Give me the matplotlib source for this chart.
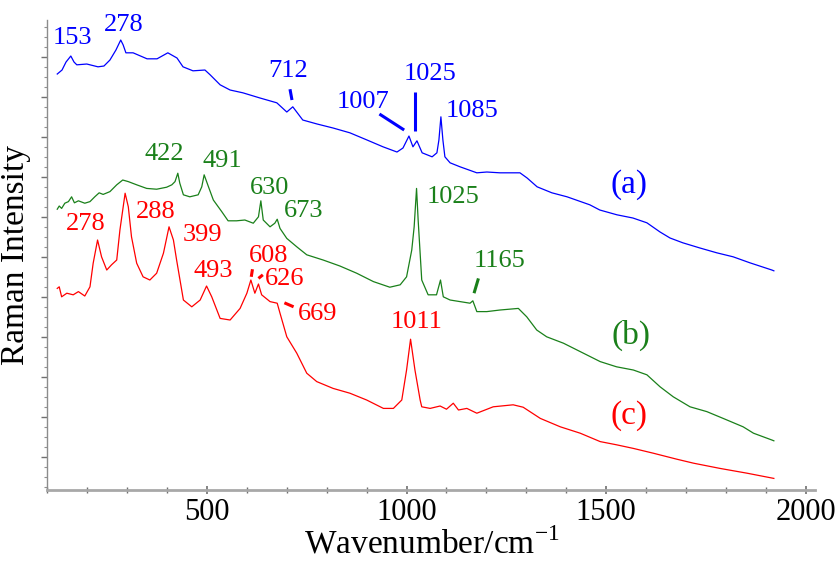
import matplotlib
matplotlib.use("Agg")
import matplotlib.pyplot as plt
from matplotlib.ticker import FixedLocator, MultipleLocator
import numpy as np

plt.rcParams['font.family'] = ['Liberation Serif', 'DejaVu Serif']
plt.rcParams['mathtext.fontset'] = 'custom'
plt.rcParams['mathtext.rm'] = 'Liberation Serif'

# ---- spectrum (a), blue ----
wa = [125, 137, 147, 159, 167, 174, 199, 227, 242, 257, 272, 284, 290, 297, 315, 350, 375, 402, 425, 440,
      465, 495, 508, 533, 558, 590, 633, 675, 700, 715, 740, 776, 816, 858, 901, 941, 976, 991, 1006, 1016,
      1026, 1039, 1064, 1076, 1081, 1086, 1091, 1096, 1109, 1134, 1176, 1201, 1234, 1284, 1302, 1327, 1364,
      1402, 1459, 1484, 1527, 1567, 1602, 1635, 1660, 1692, 1735, 1777, 1818, 1860, 1915, 1920]
ia = [10.40, 10.50, 10.70, 10.85, 10.70, 10.63, 10.65, 10.58, 10.60, 10.75, 11.00, 11.25, 11.13, 10.93,
      10.93, 10.78, 10.78, 10.93, 10.80, 10.58, 10.48, 10.50, 10.38, 10.13, 10.00, 9.93, 9.80, 9.68, 9.45,
      9.58, 9.25, 9.15, 9.05, 8.93, 8.75, 8.58, 8.45, 8.55, 8.85, 8.58, 8.73, 8.43, 8.33, 8.43, 8.75, 9.33,
      8.75, 8.33, 8.18, 8.08, 7.93, 7.95, 7.93, 7.93, 7.80, 7.58, 7.43, 7.33, 7.13, 7.00, 6.88, 6.80, 6.68,
      6.45, 6.30, 6.18, 6.05, 5.93, 5.83, 5.68, 5.50, 5.48]

# ---- spectrum (b), green ----
wb = [125, 130, 136, 144, 153, 161, 168, 178, 194, 207, 219, 230, 240, 257, 274, 289, 303, 324, 349, 374,
      399, 412, 420, 427, 432, 441, 457, 478, 487, 493, 502, 516, 537, 553, 574, 595, 616, 629, 635, 641,
      658, 670, 676, 683, 700, 725, 750, 791, 833, 875, 917, 958, 984, 1000, 1013, 1019, 1025, 1029, 1038,
      1054, 1075, 1085, 1092, 1109, 1134, 1159, 1166, 1176, 1201, 1234, 1280, 1301, 1326, 1351, 1393, 1443,
      1485, 1526, 1568, 1602, 1635, 1668, 1710, 1752, 1793, 1843, 1869, 1915, 1920]
ib = [7.02, 7.10, 7.04, 7.17, 7.21, 7.33, 7.18, 7.23, 7.17, 7.21, 7.33, 7.43, 7.39, 7.46, 7.63, 7.75, 7.71,
      7.63, 7.54, 7.52, 7.57, 7.63, 7.71, 7.92, 7.67, 7.38, 7.33, 7.38, 7.58, 7.88, 7.63, 7.25, 6.96, 6.73,
      6.73, 6.75, 6.67, 6.83, 7.23, 6.75, 6.58, 6.67, 6.77, 6.54, 6.29, 6.08, 5.88, 5.75, 5.60, 5.42, 5.21,
      5.07, 5.13, 5.33, 6.00, 6.58, 7.54, 6.75, 5.25, 4.88, 4.88, 5.25, 4.83, 4.75, 4.71, 4.67, 4.73, 4.46,
      4.46, 4.50, 4.54, 4.33, 4.00, 3.83, 3.67, 3.42, 3.21, 3.08, 3.00, 2.88, 2.58, 2.33, 2.08, 1.96, 1.79,
      1.58, 1.42, 1.25, 1.23]

# ---- spectrum (c), red ----
wc = [125, 130, 136, 149, 165, 178, 194, 207, 215, 226, 236, 249, 261, 274, 282, 295, 303, 311, 324, 340,
      357, 374, 391, 405, 416, 424, 441, 462, 483, 499, 512, 533, 558, 583, 600, 610, 620, 629, 637, 658,
      676, 683, 700, 725, 750, 775, 816, 858, 900, 942, 967, 988, 1000, 1010, 1021, 1034, 1038, 1059, 1084,
      1100, 1117, 1130, 1151, 1176, 1217, 1267, 1292, 1335, 1385, 1435, 1485, 1526, 1568, 1618, 1677, 1719,
      1785, 1853, 1920]
ic = [5.04, 5.08, 4.83, 4.92, 4.88, 4.96, 4.85, 5.08, 5.67, 6.25, 5.83, 5.50, 5.63, 5.75, 6.50, 7.42, 7.08,
      6.33, 5.67, 5.33, 5.25, 5.42, 5.92, 6.58, 6.25, 5.75, 4.75, 4.58, 4.75, 5.10, 4.83, 4.29, 4.25, 4.54,
      4.92, 5.25, 4.92, 5.15, 4.88, 4.71, 4.67, 4.42, 3.83, 3.42, 2.92, 2.71, 2.54, 2.42, 2.25, 2.04, 2.04,
      2.25, 3.00, 3.77, 3.00, 2.25, 2.08, 2.04, 2.10, 2.02, 2.17, 2.00, 2.04, 1.92, 2.08, 2.13, 2.07, 1.79,
      1.58, 1.42, 1.21, 1.13, 1.04, 0.92, 0.77, 0.67, 0.54, 0.42, 0.29]

# ---- peak labels: (text, x, y) ----
labels_a = [("153", 164, 11.30), ("278", 291, 11.63), ("712", 703, 10.48), ("1007", 892, 9.70),
            ("1025", 1059, 10.40), ("1085", 1165, 9.48)]
labels_b = [("422", 392, 8.40), ("491", 538, 8.23), ("630", 657, 7.56), ("673", 743, 6.97),
            ("1025", 1116, 7.32), ("1165", 1232, 5.73)]
labels_c = [("278", 197, 6.65), ("288", 372, 6.95), ("399", 489, 6.38), ("493", 515, 5.48),
            ("608", 655, 5.85), ("626", 695, 5.28), ("669", 777, 4.40), ("1011", 1024, 4.20)]

# leader lines: (x0, y0, x1, y1)
leaders_a = [(708, 10.02, 713, 9.75), (932, 9.40, 994, 9.00), (1020, 9.96, 1020, 8.98)]
leaders_b = [(1180, 5.29, 1169, 4.92)]
leaders_c = [(614, 5.52, 611, 5.33), (629, 5.29, 640, 5.38), (694, 4.68, 717, 4.58)]

series_tags = [("(a)", 1556, 7.63), ("(b)", 1561, 3.86), ("(c)", 1558, 1.87)]

col_a, col_b, col_c = "#0000ff", "#1a801a", "#ff0000"

fig = plt.figure(figsize=(8.35, 5.64), dpi=100)
ax = fig.add_axes([0.0566, 0.1312, 0.9765 - 0.0566, 0.9645 - 0.1312])

ax.plot(wa, ia, color=col_a, lw=0.9)
ax.plot(wb, ib, color=col_b, lw=0.9)
ax.plot(wc, ic, color=col_c, lw=0.9)

for labs, leads, col in [(labels_a, leaders_a, col_a), (labels_b, leaders_b, col_b),
                         (labels_c, leaders_c, col_c)]:
    for t, x, y in labs:
        ax.text(x, y, t, color=col, fontsize=19, ha='center', va='center')
    for x0, y0, x1, y1 in leads:
        ax.plot([x0, x1], [y0, y1], color=col, lw=2.2, solid_capstyle='butt')

for (t, x, y), col in zip(series_tags, [col_a, col_b, col_c]):
    ax.text(x, y, t, color=col, fontsize=24, ha='center', va='center')

ax.set_xlim(100, 2024)
ax.set_ylim(0, 11.75)
ax.xaxis.set_major_locator(FixedLocator([500, 1000, 1500, 2000]))
ax.xaxis.set_minor_locator(MultipleLocator(100))
ax.yaxis.set_major_locator(FixedLocator(np.arange(0.825, 11.75, 1.0)))
ax.yaxis.set_minor_locator(FixedLocator(np.arange(0.075, 11.75, 0.25)))
ax.set_yticklabels([])

for s in ['top', 'right']:
    ax.spines[s].set_visible(False)
ax.spines['left'].set_color('#8c8c8c')
ax.spines['left'].set_linewidth(1.0)
ax.spines['bottom'].set_color('#a8a8a8')
ax.spines['bottom'].set_linewidth(2.0)

ax.tick_params(axis='x', which='major', direction='inout', length=6, width=1.2, color='#707070',
               labelsize=22, pad=3)
ax.tick_params(axis='x', which='minor', direction='inout', length=4, width=1.0, color='#707070')
ax.tick_params(axis='y', which='major', direction='out', length=4, width=1.0, color='#707070')
ax.tick_params(axis='y', which='minor', direction='out', length=2, width=0.8, color='#909090')

ax.set_xlabel("Wavenumber/cm$^{\\mathregular{-1}}$", fontsize=24, labelpad=0)
ax.set_ylabel("Raman Intensity", fontsize=24, labelpad=4)

fig.savefig("out.png", dpi=100)
